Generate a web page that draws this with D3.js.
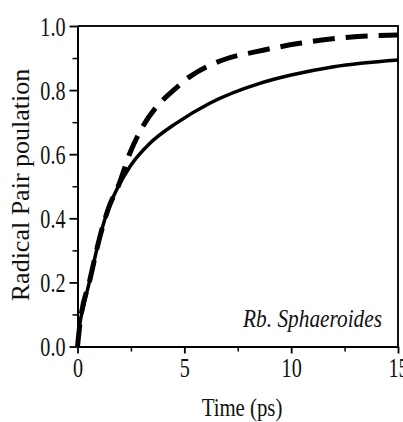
<!DOCTYPE html>
<html>
<head>
<meta charset="utf-8">
<script src="https://cdn.jsdelivr.net/npm/d3@7"></script>
<style>
  body { margin: 0; background: #fff; }
  text { font-family: "Liberation Serif", "Times New Roman", serif; fill: #111; }
</style>
</head>
<body>
<div class="chart"></div>
<script>
// solid curve
var solidTime = [0, 0.12, 0.3, 0.58, 1.05, 1.5, 1.83, 2.45, 3.39, 4.63, 6.19, 8.53, 10, 12, 15];
var solidPop = [0, 0.074, 0.13, 0.208, 0.343, 0.44, 0.489, 0.561, 0.634, 0.697, 0.759, 0.821, 0.847, 0.873, 0.894];

// dashed curve
var dashTime = [0, 0.12, 0.58, 1.05, 1.5, 1.9, 2.45, 3.0, 3.7, 4.5, 5.26, 6.8, 8.37, 10.4, 12.7, 15];
var dashPop = [0, 0.074, 0.208, 0.343, 0.44, 0.499, 0.603, 0.68, 0.748, 0.80, 0.842, 0.894, 0.92, 0.946, 0.965, 0.972];

var xTicks = [0, 5, 10, 15];
var xMinor = [2.5, 7.5, 12.5];
var yTicks = [0, 0.2, 0.4, 0.6, 0.8, 1.0];
var yMinor = [0.1, 0.3, 0.5, 0.7, 0.9];

var width = 403, height = 422;
var plotLeft = 77.5, plotRight = 398, plotTop = 26, plotBottom = 346.5;

var svg = d3.select(".chart").append("svg")
    .attr("width", width)
    .attr("height", height);

var x = d3.scaleLinear().domain([0, 15]).range([plotLeft, plotRight]);
var y = d3.scaleLinear().domain([0, 1]).range([plotBottom, plotTop]);

//////// minor ticks
svg.append("g")
    .attr("transform", "translate(0," + plotBottom + ")")
    .call(d3.axisBottom(x).tickValues(xMinor).tickSize(5).tickFormat(""))
    .call(function(g) { g.select(".domain").remove(); })
    .selectAll("line").attr("stroke-width", 1.5);

svg.append("g")
    .attr("transform", "translate(" + plotLeft + ",0)")
    .call(d3.axisLeft(y).tickValues(yMinor).tickSize(5).tickFormat(""))
    .call(function(g) { g.select(".domain").remove(); })
    .selectAll("line").attr("stroke-width", 1.5);

//////// major axes
var xAxis = svg.append("g")
    .attr("transform", "translate(0," + plotBottom + ")")
    .call(d3.axisBottom(x).tickValues(xTicks).tickSize(7).tickSizeOuter(0).tickFormat(d3.format("d")));
xAxis.selectAll("line").attr("stroke-width", 1.8);
xAxis.select(".domain").attr("stroke-width", 2);
xAxis.selectAll("text")
    .attr("y", 11)
    .attr("dy", "0.71em")
    .attr("font-size", "28px")
    .attr("transform", "scale(0.72,1)");

var yAxis = svg.append("g")
    .attr("transform", "translate(" + plotLeft + ",0)")
    .call(d3.axisLeft(y).tickValues(yTicks).tickSize(8).tickSizeOuter(0).tickFormat(d3.format(".1f")));
yAxis.selectAll("line").attr("stroke-width", 1.8);
yAxis.select(".domain").attr("stroke-width", 2);
yAxis.selectAll("text")
    .attr("x", -12 / 0.72)
    .attr("dy", "0.33em")
    .attr("font-size", "28px")
    .attr("transform", "scale(0.72,1)");

// top and right frame
svg.append("path")
    .attr("d", "M" + plotLeft + "," + plotTop + "H" + plotRight + "V" + plotBottom)
    .attr("fill", "none")
    .attr("stroke", "#111")
    .attr("stroke-width", 2);

//////// curves
var line = d3.line()
    .x(function(d) { return x(d[0]); })
    .y(function(d) { return y(d[1]); })
    .curve(d3.curveMonotoneX);

svg.append("path")
    .datum(d3.zip(dashTime, dashPop))
    .attr("d", line)
    .attr("fill", "none")
    .attr("stroke", "#000")
    .attr("stroke-width", 5)
    .attr("stroke-dasharray", "22,11");

svg.append("path")
    .datum(d3.zip(solidTime, solidPop))
    .attr("d", line)
    .attr("fill", "none")
    .attr("stroke", "#000")
    .attr("stroke-width", 3.5);

//////// labels
svg.append("text")
    .attr("transform", "translate(29,185) rotate(-90)")
    .attr("text-anchor", "middle")
    .attr("font-size", "26px")
    .text("Radical Pair poulation");

svg.append("text")
    .attr("transform", "translate(242,416) scale(0.8,1)")
    .attr("text-anchor", "middle")
    .attr("font-size", "26px")
    .text("Time (ps)");

svg.append("text")
    .attr("transform", "translate(382,327) scale(0.82,1)")
    .attr("text-anchor", "end")
    .attr("font-size", "26px")
    .attr("font-style", "italic")
    .text("Rb. Sphaeroides");
</script>
</body>
</html>
